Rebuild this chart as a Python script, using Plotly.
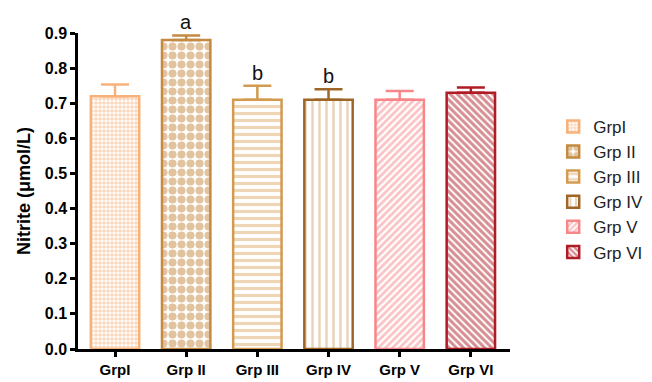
import plotly.graph_objects as go

groups = ["GrpI", "Grp II", "Grp III", "Grp IV", "Grp V", "Grp VI"]
values = [0.72, 0.88, 0.71, 0.71, 0.71, 0.73]
errors = [0.033, 0.013, 0.04, 0.03, 0.025, 0.015]
letters = ["", "a", "b", "b", "", ""]
border_colors = ["#F7B27C", "#C48A42", "#D39B50", "#9E6626", "#F7868A", "#B01C26"]
fill_colors = ["#F6B07A", "#C48A40", "#DCAC6C", "#CFA874", "#F7888C", "#B01E28"]
shapes = [".", ".", "-", "|", "/", "\\"]
psizes = [4, 9, 7, 7, 5, 5]
psolid = [0.62, 0.64, 0.45, 0.35, 0.55, 0.6]

FONT = "Arial, Liberation Sans, sans-serif"

fig = go.Figure()
for i, g in enumerate(groups):
    fig.add_trace(go.Bar(
        x=[g], y=[values[i]], name=g,
        width=0.68,
        marker=dict(
            color="white",
            line=dict(color=border_colors[i], width=2.5),
            pattern=dict(shape=shapes[i], fgcolor=fill_colors[i], bgcolor="white",
                         size=psizes[i], solidity=psolid[i], fillmode="overlay"),
        ),
        error_y=dict(type="data", symmetric=False, array=[errors[i]], arrayminus=[0],
                     color=border_colors[i], thickness=2.5, width=14),
    ))
    if letters[i]:
        fig.add_annotation(x=g, y=values[i] + errors[i], text=letters[i],
                           showarrow=False, yanchor="bottom", yshift=0,
                           font=dict(family=FONT, size=20, color="#111"))

fig.update_layout(
    width=652, height=382,
    barmode="overlay",
    plot_bgcolor="white", paper_bgcolor="white",
    margin=dict(l=70, r=140, t=25, b=29),
    font=dict(family=FONT, color="black"),
    showlegend=True,
    legend=dict(x=1.1, y=0.76, xanchor="left", yanchor="top",
                font=dict(family=FONT, size=17, color="#222"),
                tracegroupgap=0, itemwidth=30),
)
fig.update_xaxes(
    type="category", range=[-0.52, 5.55],
    showline=True, linecolor="black", linewidth=2.5,
    ticks="outside", ticklen=5, tickwidth=2.5, tickcolor="black",
    tickfont=dict(family=FONT, size=15, color="black", weight="bold"),
    showgrid=False, zeroline=False,
)
fig.update_yaxes(
    range=[0, 0.9], dtick=0.1, tickformat=".1f",
    showline=True, linecolor="black", linewidth=2.5,
    ticks="outside", ticklen=5, tickwidth=2.5, tickcolor="black",
    tickfont=dict(family=FONT, size=16, color="black", weight="bold"),
    showgrid=False, zeroline=False,
    title=dict(text="Nitrite (μmol/L)", font=dict(family=FONT, size=18, color="black", weight="bold"), standoff=10),
)

fig.write_html("out.html")
